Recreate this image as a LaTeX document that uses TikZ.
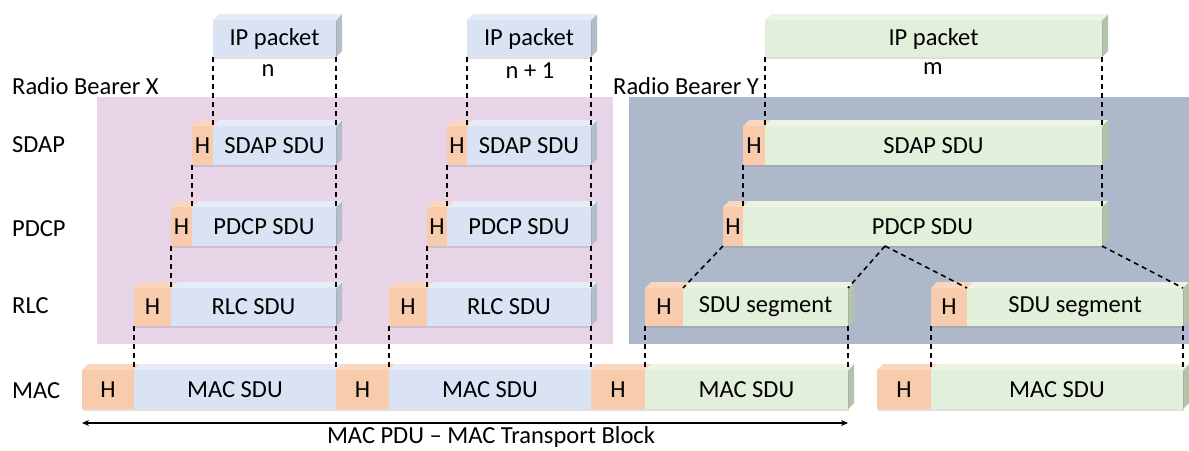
\documentclass[tikz,border=0pt]{standalone}
\usepackage{fontspec}
\setmainfont{Carlito}
\usetikzlibrary{arrows.meta,shadows}
\definecolor{pinkbg}{HTML}{E7D5E7}
\definecolor{greybg}{HTML}{ADB9CA}
\definecolor{bluefront}{HTML}{DAE3F3}
\definecolor{bluetop}{HTML}{E6ECF7}
\definecolor{blueside}{HTML}{B3BDCB}
\definecolor{greenfront}{HTML}{E2EFDA}
\definecolor{greentop}{HTML}{ECF4E6}
\definecolor{greenside}{HTML}{B6C3AC}
\definecolor{orgfront}{HTML}{F8CBAD}
\definecolor{orgtop}{HTML}{FAD6BF}
\definecolor{orgside}{HTML}{D9A886}
\tikzset{
  pktbox/.style={inner sep=0pt, outer sep=0pt, text=black,
    font=\fontsize{24.5}{28}\selectfont,
    drop shadow={shadow xshift=0.5pt, shadow yshift=-1.5pt, opacity=0.25}},
  lbl/.style={inner sep=0pt, text=black, font=\fontsize{24.5}{28}\selectfont},
  dashln/.style={draw=black, line width=1.6pt, dash pattern=on 5pt off 4pt},
  arrowln/.style={draw=black, line width=1.4pt, {Stealth[length=7pt,width=6pt]}-{Stealth[length=7pt,width=6pt]}}
}
% #1 name, #2 x1, #3 y1, #4 x2, #5 y2, #6 colour scheme, #7 text
\newcommand\mkbox[7]{%
  \pgfmathsetmacro\bxw{#4-#2}%
  \pgfmathsetmacro\bxh{#5-#3}%
  \fill[#6side] (#4,#3) -- ++(6,-6) -- ++(0,\bxh) -- (#4,#5) -- cycle;
  \fill[#6top] (#2,#3) -- ++(6,-6) -- ({#4+6},{#3-6}) -- (#4,#3) -- cycle;
  \node[pktbox, fill=#6front, minimum width=\bxw pt, minimum height=\bxh pt]
    (#1) at ({(#2+#4)/2},{(#3+#5)/2}) {#7};
}
\begin{document}
\begin{tikzpicture}[x=1pt,y=-1pt]
\useasboundingbox (0,0) rectangle (1189,450);
% bearer backgrounds
\fill[pinkbg] (97,97) rectangle (613,344);
\fill[greybg] (629,97) rectangle (1189,344);
% labels
\node[lbl, anchor=west] (rbx) at (12,86) {Radio Bearer X};
\node[lbl, anchor=west] (rby) at (613,86) {Radio Bearer Y};
\node[lbl, anchor=west] (lsdap) at (12,145) {SDAP};
\node[lbl, anchor=west] (lpdcp) at (12,229) {PDCP};
\node[lbl, anchor=west] (lrlc) at (12,306) {RLC};
\node[lbl, anchor=west] (lmac) at (12,391) {MAC};
\node[lbl] (nn) at (268,71) {n};
\node[lbl] (nn1) at (530,71) {n + 1};
\node[lbl] (mm) at (933,69) {m};
% IP packets
\mkbox{ip1}{213}{20}{336}{57}{blue}{IP packet}
\mkbox{ip2}{467}{20}{591}{57}{blue}{IP packet}
\mkbox{ip3}{765}{20}{1102}{57}{green}{IP packet}
% SDAP
\mkbox{sh1}{192}{126}{213}{165}{org}{H}
\mkbox{ss1}{213}{126}{336}{165}{blue}{SDAP SDU}
\mkbox{sh2}{447}{126}{467}{165}{org}{H}
\mkbox{ss2}{467}{126}{591}{165}{blue}{SDAP SDU}
\mkbox{sh3}{743}{126}{765}{165}{org}{H}
\mkbox{ss3}{765}{126}{1102}{165}{green}{SDAP SDU}
% PDCP
\mkbox{ph1}{171}{207}{192}{246}{org}{H}
\mkbox{ps1}{192}{207}{336}{246}{blue}{PDCP SDU}
\mkbox{ph2}{427}{207}{447}{246}{org}{H}
\mkbox{ps2}{447}{207}{591}{246}{blue}{PDCP SDU}
\mkbox{ph3}{723}{207}{743}{246}{org}{H}
\mkbox{ps3}{743}{207}{1102}{246}{green}{PDCP SDU}
% RLC
\mkbox{rh1}{134}{288}{171}{326}{org}{H}
\mkbox{rs1}{171}{288}{336}{326}{blue}{RLC SDU}
\mkbox{rh2}{389}{288}{427}{326}{org}{H}
\mkbox{rs2}{427}{288}{591}{326}{blue}{RLC SDU}
\mkbox{rh3}{645}{288}{683}{326}{org}{H}
\mkbox{rs3}{683}{288}{848}{326}{green}{SDU segment}
\mkbox{rh4}{931}{288}{967}{326}{org}{H}
\mkbox{rs4}{967}{288}{1183}{326}{green}{SDU segment}
% MAC
\mkbox{mh1}{82}{370}{134}{409}{org}{H}
\mkbox{ms1}{134}{370}{336}{409}{blue}{MAC SDU}
\mkbox{mh2}{336}{370}{389}{409}{org}{H}
\mkbox{ms2}{389}{370}{591}{409}{blue}{MAC SDU}
\mkbox{mh3}{591}{370}{645}{409}{org}{H}
\mkbox{ms3}{645}{370}{848}{409}{green}{MAC SDU}
\mkbox{mh4}{877}{370}{931}{409}{org}{H}
\mkbox{ms4}{931}{370}{1183}{409}{green}{MAC SDU}
% dashed mapping lines
\draw[dashln] (ip1.south west) -- (ss1.north west);
\draw[dashln] (ip1.south east) -- (ss1.north east);
\draw[dashln] (ip2.south west) -- (ss2.north west);
\draw[dashln] (ip2.south east) -- (ss2.north east);
\draw[dashln] (ip3.south west) -- (ss3.north west);
\draw[dashln] (ip3.south east) -- (ss3.north east);
\draw[dashln] (sh1.south west) -- (ps1.north west);
\draw[dashln] (ss1.south east) -- (ps1.north east);
\draw[dashln] (sh2.south west) -- (ps2.north west);
\draw[dashln] (ss2.south east) -- (ps2.north east);
\draw[dashln] (sh3.south west) -- (ps3.north west);
\draw[dashln] (ss3.south east) -- (ps3.north east);
\draw[dashln] (ph1.south west) -- (rs1.north west);
\draw[dashln] (ps1.south east) -- (rs1.north east);
\draw[dashln] (ph2.south west) -- (rs2.north west);
\draw[dashln] (ps2.south east) -- (rs2.north east);
\coordinate (apex) at (885,246);
\draw[dashln] (ph3.south west) -- (rs3.north west);
\draw[dashln] (apex) -- (rs3.north east);
\draw[dashln] (apex) -- (rs4.north west);
\draw[dashln] (ps3.south east) -- (rs4.north east);
\draw[dashln] (rh1.south west) -- (ms1.north west);
\draw[dashln] (rs1.south east) -- (ms1.north east);
\draw[dashln] (rh2.south west) -- (ms2.north west);
\draw[dashln] (rs2.south east) -- (ms2.north east);
\draw[dashln] (rh3.south west) -- (ms3.north west);
\draw[dashln] (rs3.south east) -- (ms3.north east);
\draw[dashln] (rh4.south west) -- (ms4.north west);
\draw[dashln] (rs4.south east) -- (ms4.north east);
% transport block arrow
\coordinate (tbl) at (82,423);
\coordinate (tbr) at (848,423);
\draw[arrowln] (tbl) -- (tbr);
\node[lbl] (tbtext) at (491,437) {MAC PDU – MAC Transport Block};
\end{tikzpicture}
\end{document}
